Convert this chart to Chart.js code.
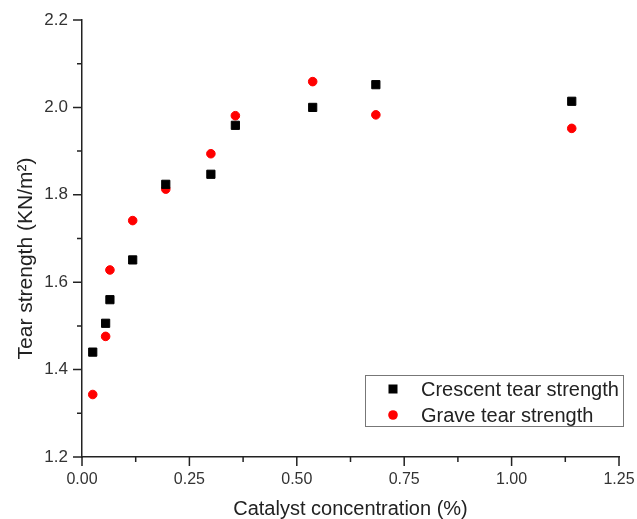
<!DOCTYPE html>
<html>
<head>
<meta charset="utf-8">
<script src="https://cdn.jsdelivr.net/npm/chart.js@4.4.1/dist/chart.umd.min.js"></script>
<style>
  html, body { margin: 0; padding: 0; background: #fff; }
  #wrap { width: 637px; height: 519px; }
</style>
</head>
<body>
<div id="wrap"><canvas id="tearChart" width="637" height="519"></canvas></div>
<script>
  // Data
  const catalyst = [0.025, 0.055, 0.065, 0.118, 0.195, 0.300, 0.357, 0.537, 0.684, 1.140];
  const crescentTear = [1.440, 1.506, 1.560, 1.651, 1.824, 1.847, 1.959, 2.000, 2.052, 2.014];
  const graveTear = [1.343, 1.476, 1.628, 1.741, 1.813, 1.894, 1.981, 2.059, 1.983, 1.952];
  const seriesNames = ['Crescent tear strength', 'Grave tear strength'];
  const xTicks = [0, 0.25, 0.5, 0.75, 1.0, 1.25];
  const yTicks = [1.2, 1.4, 1.6, 1.8, 2.0, 2.2];

  const FONT = "Arial, 'Liberation Sans', sans-serif";

  const toPoints = ys => ys.map((y, i) => ({ x: catalyst[i], y: y }));

  // Outward major/minor tick marks (Origin style)
  const tickMarks = {
    id: 'tickMarks',
    afterDraw(chart) {
      const ctx = chart.ctx;
      const xs = chart.scales.x, ys = chart.scales.y;
      ctx.save();
      ctx.strokeStyle = '#222';
      ctx.lineWidth = 1.5;
      ctx.beginPath();
      for (let i = 0; i < xTicks.length; i++) {
        const px = xs.getPixelForValue(xTicks[i]);
        ctx.moveTo(px, xs.top); ctx.lineTo(px, xs.top + 9);
        if (i < xTicks.length - 1) {
          const mx = xs.getPixelForValue((xTicks[i] + xTicks[i + 1]) / 2);
          ctx.moveTo(mx, xs.top); ctx.lineTo(mx, xs.top + 5);
        }
      }
      for (let i = 0; i < yTicks.length; i++) {
        const py = ys.getPixelForValue(yTicks[i]);
        ctx.moveTo(ys.right, py); ctx.lineTo(ys.right - 9, py);
        if (i < yTicks.length - 1) {
          const my = ys.getPixelForValue((yTicks[i] + yTicks[i + 1]) / 2);
          ctx.moveTo(ys.right, my); ctx.lineTo(ys.right - 5, my);
        }
      }
      ctx.stroke();

      // y axis title
      const area = chart.chartArea;
      ctx.translate(26, (area.top + area.bottom) / 2 + 20);
      ctx.rotate(-Math.PI / 2);
      ctx.fillStyle = '#222';
      ctx.font = '21px ' + FONT;
      ctx.textAlign = 'center';
      ctx.textBaseline = 'middle';
      ctx.fillText('Tear strength (KN/m\u00B2)', 0, 0);
      ctx.restore();
    }
  };

  // Boxed legend inside the plot, lower right
  const boxLegend = {
    id: 'boxLegend',
    afterDraw(chart) {
      const ctx = chart.ctx;
      const area = chart.chartArea;
      const left = area.right - 254, top = area.bottom - 82;
      const w = 258, h = 51;
      ctx.save();
      ctx.strokeStyle = '#777';
      ctx.lineWidth = 1;
      ctx.strokeRect(Math.round(left) + 0.5, Math.round(top) + 0.5, w, h);
      ctx.font = '20px ' + FONT;
      ctx.textBaseline = 'middle';
      ctx.fillStyle = '#222';
      chart.data.datasets.forEach((ds, i) => {
        const cy = top + 14 + i * 26;
        const cx = left + 28;
        ctx.fillStyle = ds.backgroundColor;
        if (ds.pointStyle === 'rect') {
          ctx.fillRect(cx - 4.5, cy - 4.5, 9, 9);
        } else {
          ctx.beginPath();
          ctx.arc(cx, cy, 4.8, 0, Math.PI * 2);
          ctx.fill();
        }
        ctx.fillStyle = '#222';
        ctx.fillText(ds.label, left + 56, cy + 1);
      });
      ctx.restore();
    }
  };

  const ctx = document.getElementById('tearChart').getContext('2d');
  const tearChart = new Chart(ctx, {
    type: 'scatter',
    data: {
      datasets: [
        {
          label: seriesNames[0],
          data: toPoints(crescentTear),
          pointStyle: 'rect',
          backgroundColor: '#000',
          borderColor: '#000',
          borderWidth: 1,
          pointRadius: 5.8,
          pointHoverRadius: 5.8
        },
        {
          label: seriesNames[1],
          data: toPoints(graveTear),
          pointStyle: 'circle',
          backgroundColor: '#ff0000',
          borderColor: '#ff0000',
          borderWidth: 1,
          pointRadius: 4.3,
          pointHoverRadius: 4.3
        }
      ]
    },
    options: {
      responsive: false,
      animation: false,
      layout: { padding: { top: 20, right: 18, left: 0, bottom: 0 } },
      plugins: {
        legend: { display: false },
        tooltip: { enabled: false }
      },
      scales: {
        x: {
          type: 'linear',
          min: 0,
          max: 1.25,
          afterBuildTicks: s => { s.ticks = xTicks.map(v => ({ value: v })); },
          afterFit: s => { s.height = 62; s.paddingLeft = 0; s.paddingRight = 0; },
          grid: { display: false, drawTicks: false },
          border: { display: true, color: '#222', width: 1.5 },
          ticks: {
            padding: 13,
            color: '#333',
            font: { family: FONT, size: 16 },
            maxRotation: 0,
            callback: v => Number(v).toFixed(2)
          },
          title: {
            display: true,
            text: 'Catalyst concentration (%)',
            color: '#222',
            font: { family: FONT, size: 20 },
            padding: { top: 12, bottom: -2 }
          }
        },
        y: {
          type: 'linear',
          min: 1.2,
          max: 2.2,
          afterBuildTicks: s => { s.ticks = yTicks.map(v => ({ value: v })); },
          afterFit: s => { s.width = 82; s.paddingTop = 0; s.paddingBottom = 0; },
          grid: { display: false, drawTicks: false },
          border: { display: true, color: '#222', width: 1.5 },
          ticks: {
            padding: 14,
            color: '#333',
            font: { family: FONT, size: 17 },
            callback: v => Number(v).toFixed(1)
          }
        }
      }
    },
    plugins: [tickMarks, boxLegend]
  });
</script>
</body>
</html>
